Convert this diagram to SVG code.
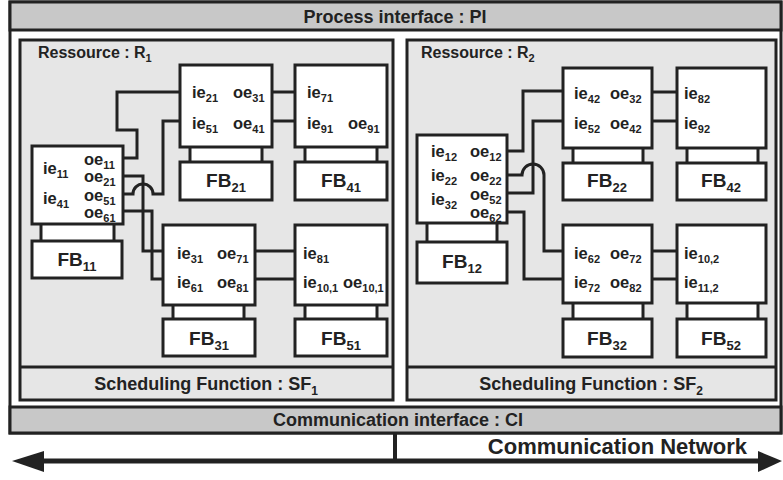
<svg xmlns="http://www.w3.org/2000/svg" width="783" height="480" viewBox="0 0 783 480">
<style>
text{font-family:"Liberation Sans",Arial,sans-serif;font-weight:bold;fill:#222}
.bar{fill:#c8c8c8;stroke:#222;stroke-width:3}
.res{fill:#e6e6e6;stroke:#222;stroke-width:3}
.box{fill:#fff;stroke:#222;stroke-width:3}
.neck{fill:#fff;stroke:none}
.nl{stroke:#222;stroke-width:3}
.io{font-size:16.5px}
.io tspan{font-size:11px}
.fb{font-size:19px;text-anchor:middle}
.fb tspan{font-size:13px}
.lbl{font-size:18px;text-anchor:middle}
.lbl tspan{font-size:12px}
.rl{font-size:16px}
.rl tspan{font-size:11px}
.conn path{fill:none;stroke:#222;stroke-width:3}
</style>

<g id="frame">
<rect x="10" y="2" width="771" height="431" fill="#fff" stroke="#222" stroke-width="3"/>
<rect class="bar" x="10" y="2" width="771" height="28"/>
<text class="lbl" x="395" y="23">Process interface : PI</text>
<rect class="bar" x="10" y="407" width="771" height="26"/>
<text class="lbl" x="398" y="426">Communication interface : CI</text>
</g>

<g id="R1">
<rect class="res" x="20" y="40" width="373" height="360"/>
<line class="nl" x1="20" y1="367" x2="393" y2="367"/>
<text class="rl" x="38" y="58">Ressource : R<tspan dy="4">1</tspan></text>
<text class="lbl" x="206" y="390">Scheduling Function : SF<tspan dy="5">1</tspan></text>
</g>

<g id="R2">
<rect class="res" x="407" y="40" width="369" height="360"/>
<line class="nl" x1="407" y1="367" x2="776" y2="367"/>
<text class="rl" x="421" y="58">Ressource : R<tspan dy="4">2</tspan></text>
<text class="lbl" x="591" y="390">Scheduling Function : SF<tspan dy="5">2</tspan></text>
</g>

<g id="FB11">
<rect class="neck" x="41" y="224" width="73" height="17"/>
<line class="nl" x1="41" y1="224" x2="41" y2="241"/><line class="nl" x1="114" y1="224" x2="114" y2="241"/>
<rect class="box" x="32" y="146" width="91" height="78"/>
<rect class="box" x="32" y="241" width="90" height="37"/>
<text class="io" x="43" y="174">ie<tspan dy="4">11</tspan></text>
<text class="io" x="84" y="165">oe<tspan dy="4">11</tspan></text>
<text class="io" x="84" y="182">oe<tspan dy="4">21</tspan></text>
<text class="io" x="43" y="204">ie<tspan dy="4">41</tspan></text>
<text class="io" x="84" y="201">oe<tspan dy="4">51</tspan></text>
<text class="io" x="84" y="218">oe<tspan dy="4">61</tspan></text>
<text class="fb" x="77" y="266">FB<tspan dy="5">11</tspan></text>
</g>

<g id="FB21">
<rect class="neck" x="190" y="147" width="72" height="15"/>
<line class="nl" x1="190" y1="147" x2="190" y2="162"/><line class="nl" x1="262" y1="147" x2="262" y2="162"/>
<rect class="box" x="180" y="65" width="92" height="82"/>
<rect class="box" x="180" y="162" width="92" height="38"/>
<text class="io" x="192" y="98">ie<tspan dy="4">21</tspan></text>
<text class="io" x="233" y="98">oe<tspan dy="4">31</tspan></text>
<text class="io" x="192" y="129">ie<tspan dy="4">51</tspan></text>
<text class="io" x="233" y="129">oe<tspan dy="4">41</tspan></text>
<text class="fb" x="226" y="187">FB<tspan dy="5">21</tspan></text>
</g>

<g id="FB41">
<rect class="neck" x="305" y="147" width="72" height="15"/>
<line class="nl" x1="305" y1="147" x2="305" y2="162"/><line class="nl" x1="377" y1="147" x2="377" y2="162"/>
<rect class="box" x="295" y="65" width="92" height="82"/>
<rect class="box" x="295" y="162" width="92" height="38"/>
<text class="io" x="307" y="98">ie<tspan dy="4">71</tspan></text>
<text class="io" x="307" y="129">ie<tspan dy="4">91</tspan></text>
<text class="io" x="348" y="129">oe<tspan dy="4">91</tspan></text>
<text class="fb" x="341" y="187">FB<tspan dy="5">41</tspan></text>
</g>

<g id="FB31">
<rect class="neck" x="173" y="305" width="71" height="14"/>
<line class="nl" x1="173" y1="305" x2="173" y2="319"/><line class="nl" x1="244" y1="305" x2="244" y2="319"/>
<rect class="box" x="163" y="225" width="92" height="80"/>
<rect class="box" x="163" y="319" width="92" height="37"/>
<text class="io" x="177" y="259">ie<tspan dy="4">31</tspan></text>
<text class="io" x="217" y="259">oe<tspan dy="4">71</tspan></text>
<text class="io" x="177" y="288">ie<tspan dy="4">61</tspan></text>
<text class="io" x="217" y="288">oe<tspan dy="4">81</tspan></text>
<text class="fb" x="209" y="345">FB<tspan dy="5">31</tspan></text>
</g>

<g id="FB51">
<rect class="neck" x="305" y="305" width="72" height="14"/>
<line class="nl" x1="305" y1="305" x2="305" y2="319"/><line class="nl" x1="377" y1="305" x2="377" y2="319"/>
<rect class="box" x="295" y="225" width="92" height="80"/>
<rect class="box" x="295" y="319" width="92" height="37"/>
<text class="io" x="303" y="259">ie<tspan dy="4">81</tspan></text>
<text class="io" x="303" y="288">ie<tspan dy="4">10,1</tspan></text>
<text class="io" x="343" y="288">oe<tspan dy="4">10,1</tspan></text>
<text class="fb" x="341" y="345">FB<tspan dy="5">51</tspan></text>
</g>

<g id="FB12">
<rect class="neck" x="427" y="223" width="70" height="19"/>
<line class="nl" x1="427" y1="223" x2="427" y2="242"/><line class="nl" x1="497" y1="223" x2="497" y2="242"/>
<rect class="box" x="417" y="135" width="90" height="88"/>
<rect class="box" x="417" y="242" width="90" height="41"/>
<text class="io" x="431" y="157">ie<tspan dy="4">12</tspan></text>
<text class="io" x="470" y="157">oe<tspan dy="4">12</tspan></text>
<text class="io" x="431" y="181">ie<tspan dy="4">22</tspan></text>
<text class="io" x="470" y="181">oe<tspan dy="4">22</tspan></text>
<text class="io" x="431" y="205">ie<tspan dy="4">32</tspan></text>
<text class="io" x="470" y="200">oe<tspan dy="4">52</tspan></text>
<text class="io" x="470" y="218">oe<tspan dy="4">62</tspan></text>
<text class="fb" x="462" y="268">FB<tspan dy="5">12</tspan></text>
</g>

<g id="FB22">
<rect class="neck" x="573" y="148" width="70" height="15"/>
<line class="nl" x1="573" y1="148" x2="573" y2="163"/><line class="nl" x1="643" y1="148" x2="643" y2="163"/>
<rect class="box" x="563" y="68" width="89" height="80"/>
<rect class="box" x="563" y="163" width="89" height="37"/>
<text class="io" x="574" y="99">ie<tspan dy="4">42</tspan></text>
<text class="io" x="610" y="99">oe<tspan dy="4">32</tspan></text>
<text class="io" x="574" y="129">ie<tspan dy="4">52</tspan></text>
<text class="io" x="610" y="129">oe<tspan dy="4">42</tspan></text>
<text class="fb" x="607" y="187">FB<tspan dy="5">22</tspan></text>
</g>

<g id="FB42">
<rect class="neck" x="687" y="148" width="71" height="15"/>
<line class="nl" x1="687" y1="148" x2="687" y2="163"/><line class="nl" x1="758" y1="148" x2="758" y2="163"/>
<rect class="box" x="677" y="68" width="89" height="80"/>
<rect class="box" x="677" y="163" width="89" height="37"/>
<text class="io" x="684" y="99">ie<tspan dy="4">82</tspan></text>
<text class="io" x="684" y="129">ie<tspan dy="4">92</tspan></text>
<text class="fb" x="721" y="187">FB<tspan dy="5">42</tspan></text>
</g>

<g id="FB32">
<rect class="neck" x="573" y="303" width="70" height="16"/>
<line class="nl" x1="573" y1="303" x2="573" y2="319"/><line class="nl" x1="643" y1="303" x2="643" y2="319"/>
<rect class="box" x="563" y="225" width="89" height="78"/>
<rect class="box" x="563" y="319" width="89" height="38"/>
<text class="io" x="574" y="259">ie<tspan dy="4">62</tspan></text>
<text class="io" x="610" y="259">oe<tspan dy="4">72</tspan></text>
<text class="io" x="574" y="288">ie<tspan dy="4">72</tspan></text>
<text class="io" x="610" y="288">oe<tspan dy="4">82</tspan></text>
<text class="fb" x="607" y="345">FB<tspan dy="5">32</tspan></text>
</g>

<g id="FB52">
<rect class="neck" x="687" y="303" width="71" height="16"/>
<line class="nl" x1="687" y1="303" x2="687" y2="319"/><line class="nl" x1="758" y1="303" x2="758" y2="319"/>
<rect class="box" x="677" y="225" width="89" height="78"/>
<rect class="box" x="677" y="319" width="89" height="38"/>
<text class="io" x="684" y="259">ie<tspan dy="4">10,2</tspan></text>
<text class="io" x="684" y="288">ie<tspan dy="4">11,2</tspan></text>
<text class="fb" x="721" y="345">FB<tspan dy="5">52</tspan></text>
</g>

<g id="connectors" class="conn">
<path d="M123,158 H137 V130 H117 V92 H180"/>
<path d="M123,176 H143 V251 H163"/>
<path d="M123,194 H133 A10,10 0 0 1 153,194 H163 V121 H180"/>
<path d="M123,211 H152 V279 H163"/>
<path d="M272,92 H295"/>
<path d="M272,121 H295"/>
<path d="M255,251 H295"/>
<path d="M255,279 H295"/>
<path d="M507,151 H523 V91 H563"/>
<path d="M507,175 H522 A11,11 0 0 1 544,175 V251 H563"/>
<path d="M507,193 H533 V121 H563"/>
<path d="M507,212 H524 V279 H563"/>
<path d="M652,92 H677"/>
<path d="M652,121 H677"/>
<path d="M652,251 H677"/>
<path d="M652,279 H677"/>
</g>

<g id="network">
<line x1="395" y1="433" x2="395" y2="461" stroke="#222" stroke-width="4"/>
<line x1="40" y1="461" x2="760" y2="461" stroke="#222" stroke-width="5"/>
<polygon points="12,461 44,451 44,472" fill="#222"/>
<polygon points="782,461 758,451 758,472" fill="#222"/>
<text x="747" y="454" font-size="22" text-anchor="end">Communication Network</text>
</g>
</svg>
